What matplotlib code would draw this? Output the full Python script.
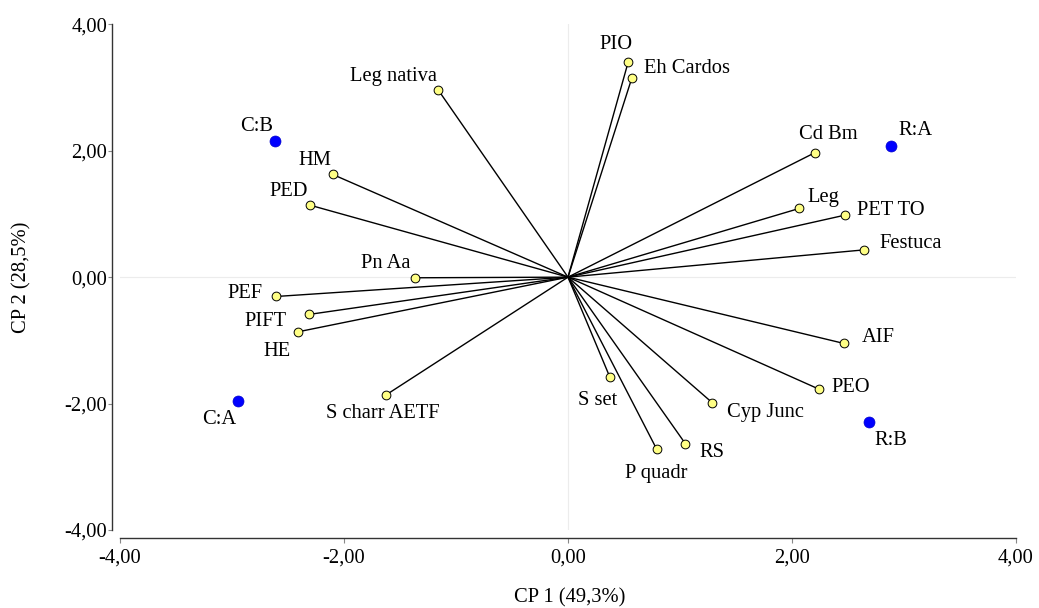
import matplotlib
matplotlib.use("Agg")
import matplotlib.pyplot as plt

# Variable loadings (vectors from origin)
var_names = ["PIO", "Eh Cardos", "Leg nativa", "Cd Bm", "HM", "PED", "Leg", "PET TO",
             "Festuca", "Pn Aa", "PEF", "PIFT", "HE", "AIF", "S charr AETF", "S set",
             "PEO", "Cyp Junc", "P quadr", "RS"]
var_x = [0.538, 0.569, -1.158, 2.202, -2.101, -2.304, 2.065, 2.473,
         2.646, -1.366, -2.607, -2.313, -2.411, 2.464, -1.628, 0.375,
         2.241, 1.286, 0.792, 1.047]
var_y = [3.407, 3.144, 2.959, 1.967, 1.625, 1.139, 1.087, 0.981,
         0.432, -0.010, -0.306, -0.590, -0.865, -1.049, -1.867, -1.587,
         -1.772, -1.983, -2.722, -2.632]

# Treatment scores
obs_names = ["C:B", "R:A", "C:A", "R:B"]
obs_x = [-2.616, 2.887, -2.949, 2.685]
obs_y = [2.147, 2.073, -1.957, -2.289]

x_ticks = [-4, -2, 0, 2, 4]
y_ticks = [-4, -2, 0, 2, 4]
x_label = "CP 1 (49,3%)"
y_label = "CP 2 (28,5%)"

# label placement: (dx px, dy px, ha) ; dy measured to text centre
var_lab = {
    "PIO": (-12, 18, "center"), "Eh Cardos": (12, 11, "left"),
    "Leg nativa": (-1, 15, "right"), "Cd Bm": (14, 19, "center"),
    "HM": (-1, 15, "right"), "PED": (-2, 15, "right"), "Leg": (8, 12, "left"),
    "PET TO": (12, 6, "left"), "Festuca": (15, 7, "left"), "Pn Aa": (-5, 15, "right"),
    "PEF": (-13, 4, "right"), "PIFT": (-22, -6, "right"), "HE": (-7, -19, "right"),
    "AIF": (18, 7, "left"), "S charr AETF": (-3, -17, "center"),
    "S set": (-12, -22, "center"), "PEO": (12, 3, "left"),
    "Cyp Junc": (15, -9, "left"), "P quadr": (0, -23, "center"), "RS": (14, -8, "left"),
}
obs_lab = {
    "C:B": (-2, 16, "right"), "R:A": (7, 17, "left"),
    "C:A": (-19, -18, "center"), "R:B": (6, -18, "left"),
}

FS = 14.8
plt.rcParams["font.family"] = ["Liberation Serif", "DejaVu Serif"]

W, H = 1039, 608
fig = plt.figure(figsize=(W / 100, H / 100), dpi=100)
ax = fig.add_axes([120 / W, (H - 530) / H, 896 / W, (530 - 24.3) / H])
ax.set_xlim(-4, 4)
ax.set_ylim(-4, 4)

ax.axhline(0, color="#ececec", lw=0.8, zorder=0)
ax.axvline(0, color="#ececec", lw=0.8, zorder=0)

for x, y in zip(var_x, var_y):
    ax.plot([0, x], [0, y], color="black", lw=1.0, zorder=2)
ax.plot(var_x, var_y, "o", ms=6.3, mfc="#ffff85", mec="black", mew=0.7,
        ls="none", zorder=3, clip_on=False)
ax.plot(obs_x, obs_y, "o", ms=7.9, mfc="#0000ff", mec="#0000cc", mew=0.5,
        ls="none", zorder=3, clip_on=False)

def put(name, x, y, spec):
    dx, dy, ha = spec
    ax.annotate(name, (x, y), xytext=(dx, dy - 1), textcoords="offset pixels",
                ha=ha, va="center", fontsize=FS, color="black", zorder=4)

for n, x, y in zip(var_names, var_x, var_y):
    put(n, x, y, var_lab[n])
for n, x, y in zip(obs_names, obs_x, obs_y):
    put(n, x, y, obs_lab[n])

fmt = lambda v: f"{v:.2f}".replace(".", ",")
ax.set_xticks(x_ticks)
ax.set_xticklabels([fmt(v) for v in x_ticks])
ax.set_yticks(y_ticks)
ax.set_yticklabels([fmt(v) for v in y_ticks])

for s in ["top", "right"]:
    ax.spines[s].set_visible(False)
ax.spines["left"].set_position(("outward", 7.7 * 0.72))
ax.spines["bottom"].set_position(("outward", 8.3 * 0.72))
for s in ["left", "bottom"]:
    ax.spines[s].set_color("#333333")
    ax.spines[s].set_linewidth(1.0)

ax.tick_params(axis="x", length=3.6, width=0.8, color="#888888", pad=4,
               labelsize=FS, direction="out")
ax.tick_params(axis="y", length=3.0, width=0.8, color="#888888", pad=0.5,
               labelsize=FS, direction="out")

fig.text(570 / W, 1 - 598 / H, x_label, ha="center", va="center", fontsize=FS)
fig.text(22 / W, 1 - 277 / H, y_label, ha="center", va="center", fontsize=FS,
         rotation=90)

fig.savefig("out.png", dpi=100)
